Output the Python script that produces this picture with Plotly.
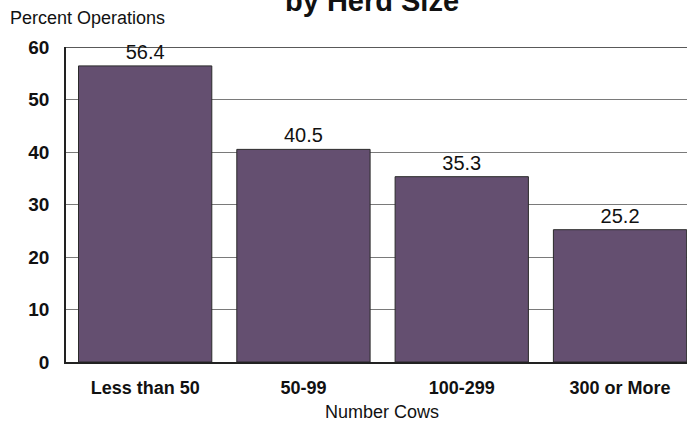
import plotly.graph_objects as go

# Herd size categories and share of operations (%)
herd_sizes = ["Less than 50", "50-99", "100-299", "300 or More"]
percent_ops = [56.4, 40.5, 35.3, 25.2]
y_ticks = [0, 10, 20, 30, 40, 50, 60]

FONT = "Liberation Sans, Arial, sans-serif"
W, H = 687, 426
ML, MT, MB, MR = 66, 47, 64, 0
plot_w = W - ML - MR
plot_h = H - MT - MB
cat_px = 158.3  # width of one category slot in pixels

fig = go.Figure(
    go.Bar(
        x=list(range(len(herd_sizes))),
        y=percent_ops,
        text=[f"{v:.1f}" for v in percent_ops],
        textposition="outside",
        textfont=dict(family=FONT, size=20, color="#111111"),
        cliponaxis=False,
        marker=dict(color="#644f70", line=dict(color="#2a2a2a", width=1)),
        hoverinfo="skip",
    )
)

fig.update_layout(
    width=W,
    height=H,
    margin=dict(l=ML, r=MR, t=MT, b=MB),
    paper_bgcolor="white",
    plot_bgcolor="white",
    bargap=25 / cat_px,
    showlegend=False,
    font=dict(family=FONT, color="#111111"),
)

fig.update_xaxes(
    tickmode="array",
    tickvals=list(range(len(herd_sizes))),
    ticktext=herd_sizes,
    range=[-0.5, -0.5 + plot_w / cat_px],
    tickfont=dict(family=FONT, size=18, color="#111111", weight="bold"),
    ticks="outside",
    ticklen=9,
    tickcolor="rgba(0,0,0,0)",
    showline=True,
    linecolor="#222222",
    linewidth=1.5,
    showgrid=False,
    zeroline=False,
)

fig.update_yaxes(
    range=[0, 60],
    tickmode="array",
    tickvals=y_ticks,
    tickfont=dict(family=FONT, size=19, color="#111111", weight="bold"),
    ticks="outside",
    ticklen=11,
    tickcolor="rgba(0,0,0,0)",
    showline=True,
    linecolor="#222222",
    linewidth=1.5,
    showgrid=True,
    gridcolor="#7a7a7a",
    gridwidth=1,
    zeroline=False,
)

# top frame line at the 60 mark
fig.add_shape(
    type="line", xref="paper", yref="y", x0=0, x1=1, y0=60, y1=60,
    line=dict(color="#222222", width=1.5), layer="above",
)

def px_x(px):
    return (px - ML) / plot_w

def px_y(py):
    return 1 - (py - MT) / plot_h

fig.add_annotation(
    text="by Herd Size", xref="paper", yref="paper",
    x=px_x(372), y=px_y(1), xanchor="center", yanchor="middle",
    showarrow=False, font=dict(family=FONT, size=29, color="#111111", weight="bold"),
)
fig.add_annotation(
    text="Percent Operations", xref="paper", yref="paper",
    x=px_x(8), y=px_y(18), xanchor="left", yanchor="middle",
    showarrow=False, font=dict(family=FONT, size=18, color="#111111"),
)
fig.add_annotation(
    text="Number Cows", xref="paper", yref="paper",
    x=px_x(382), y=px_y(412), xanchor="center", yanchor="middle",
    showarrow=False, font=dict(family=FONT, size=18, color="#111111"),
)

fig.write_html("out.html")
